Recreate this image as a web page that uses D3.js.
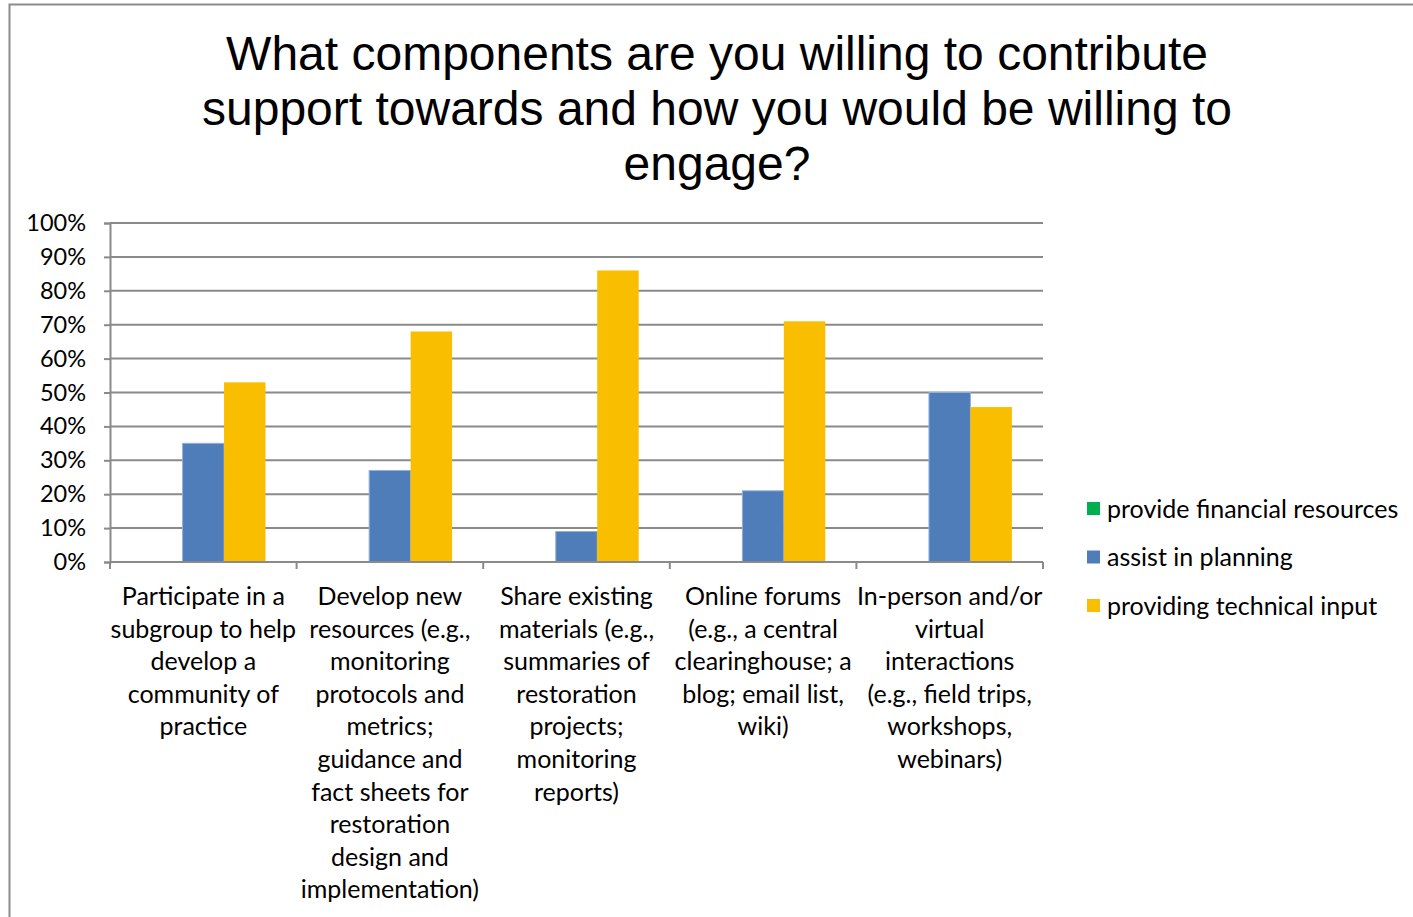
<!DOCTYPE html>
<html>
<head>
<meta charset="utf-8">
<script src="https://cdn.jsdelivr.net/npm/d3@7"></script>
<style>
  body { margin: 0; background: #fff; }
  svg { display: block; }
</style>
</head>
<body>
<div id="chart"></div>
<script>
// chart data
const categories = [
  "Participate in a subgroup to help develop a community of practice",
  "Develop new resources (e.g., monitoring protocols and metrics; guidance and fact sheets for restoration design and implementation)",
  "Share existing materials (e.g., summaries of restoration projects; monitoring reports)",
  "Online forums (e.g., a central clearinghouse; a blog; email list, wiki)",
  "In-person and/or virtual interactions (e.g., field trips, workshops, webinars)"
]
// how the category labels wrap in the picture
const categoryLines = [
  ["Participate in a", "subgroup to help", "develop a", "community of", "practice"],
  ["Develop new", "resources (e.g.,", "monitoring", "protocols and", "metrics;", "guidance and", "fact sheets for", "restoration", "design and", "implementation)"],
  ["Share existing", "materials (e.g.,", "summaries of", "restoration", "projects;", "monitoring", "reports)"],
  ["Online forums", "(e.g., a central", "clearinghouse; a", "blog; email list,", "wiki)"],
  ["In-person and/or", "virtual", "interactions", "(e.g., field trips,", "workshops,", "webinars)"]
]
const seriesNames = ["provide financial resources", "assist in planning", "providing technical input"]
const financial = [0, 0, 0, 0, 0]
const planning = [0.35, 0.27, 0.09, 0.21, 0.50]
const technical = [0.53, 0.68, 0.86, 0.71, 0.457]
const yTicks = [0, 0.1, 0.2, 0.3, 0.4, 0.5, 0.6, 0.7, 0.8, 0.9, 1]
const titleLines = [
  "What components are you willing to contribute",
  "support towards and how you would be willing to",
  "engage?"
]

const colors = ["#00B050", "#4F7DB9", "#F9BE00"]
const seriesValues = [financial, planning, technical]

const width = 1413
const height = 917
const plotLeft = 110
const plotRight = 1043
const plotTop = 223
const plotBottom = 562
const gridColor = "#8a8a8a"
const labelFont = "Lato, 'Open Sans', sans-serif"

const svg = d3.select('#chart')
  .append('svg')
  .attr('width', width)
  .attr('height', height)

// chart area border
svg.append('rect')
  .attr('x', 9.5)
  .attr('y', 4.5)
  .attr('width', 1500)
  .attr('height', 1000)
  .attr('fill', '#fff')
  .attr('stroke', '#8c8c8c')
  .attr('stroke-width', 2)

// title
svg.append('text')
  .attr('x', 717)
  .attr('y', 70)
  .attr('text-anchor', 'middle')
  .style('font-family', "'Liberation Sans', Arial, sans-serif")
  .style('font-size', '48px')
  .attr('fill', '#000')
  .selectAll('tspan')
  .data(titleLines)
  .enter()
  .append('tspan')
  .attr('x', 717)
  .attr('dy', (d, i) => i === 0 ? 0 : 55)
  .text(d => d)

const xScale = d3.scaleBand()
  .domain(categories)
  .range([plotLeft, plotRight])
  .padding(0)

const xInner = d3.scaleBand()
  .domain(seriesNames)
  .range([0, xScale.bandwidth()])
  .paddingInner(0)
  .paddingOuter(0.75)

const yScale = d3.scaleLinear()
  .domain([0, 1])
  .range([plotBottom, plotTop])

// gridlines
svg.append('g')
  .selectAll('line')
  .data(yTicks.slice(1))
  .enter()
  .append('line')
  .attr('x1', plotLeft)
  .attr('x2', plotRight)
  .attr('y1', d => yScale(d))
  .attr('y2', d => yScale(d))
  .attr('stroke', gridColor)
  .attr('stroke-width', 2)

// bars
const groups = svg.append('g')
  .selectAll('g')
  .data(categories)
  .enter()
  .append('g')
  .attr('transform', d => 'translate(' + xScale(d) + ',0)')

groups.selectAll('rect')
  .data((d, i) => seriesNames.map((s, j) => ({ s: s, v: seriesValues[j][i], j: j })))
  .enter()
  .append('rect')
  .attr('x', d => xInner(d.s))
  .attr('width', xInner.bandwidth())
  .attr('y', d => yScale(d.v))
  .attr('height', d => plotBottom - yScale(d.v))
  .attr('fill', d => colors[d.j])
  .attr('stroke', d => d.j === 1 ? '#8fb0dc' : 'none')
  .attr('stroke-width', d => d.v > 0 ? 1 : 0)

// y axis
const yAxis = d3.axisLeft(yScale)
  .tickValues(yTicks)
  .tickFormat(d3.format('.0%'))
  .tickSize(6)
  .tickPadding(18)

const yAxisG = svg.append('g')
  .attr('transform', 'translate(' + plotLeft + ',0)')
  .call(yAxis)
yAxisG.select('.domain').attr('stroke', gridColor).attr('stroke-width', 2)
yAxisG.selectAll('.tick line').attr('stroke', gridColor).attr('stroke-width', 2)
yAxisG.selectAll('.tick text')
  .style('font-family', labelFont)
  .style('font-size', '23.5px')
  .attr('fill', '#000')

// x axis line with ticks on category boundaries
const boundaries = categories.map(c => xScale(c)).concat([plotRight])
svg.append('line')
  .attr('x1', plotLeft)
  .attr('x2', plotRight)
  .attr('y1', plotBottom)
  .attr('y2', plotBottom)
  .attr('stroke', gridColor)
  .attr('stroke-width', 2)
svg.append('g')
  .selectAll('line')
  .data(boundaries)
  .enter()
  .append('line')
  .attr('x1', d => d)
  .attr('x2', d => d)
  .attr('y1', plotBottom)
  .attr('y2', plotBottom + 7)
  .attr('stroke', gridColor)
  .attr('stroke-width', 2)

// category labels
svg.append('g')
  .selectAll('text')
  .data(categories)
  .enter()
  .append('text')
  .attr('x', d => xScale(d) + xScale.bandwidth() / 2)
  .attr('y', 605)
  .attr('text-anchor', 'middle')
  .style('font-family', labelFont)
  .style('font-size', '25px')
  .attr('fill', '#000')
  .selectAll('tspan')
  .data((d, i) => categoryLines[i])
  .enter()
  .append('tspan')
  .attr('x', function () { return this.parentNode.getAttribute('x') })
  .attr('dy', (d, i) => i === 0 ? 0 : 32.6)
  .text(d => d)

// legend
const legend = svg.append('g')
  .selectAll('g')
  .data(seriesNames)
  .enter()
  .append('g')
  .attr('transform', (d, i) => 'translate(1087,' + (509 + i * 48.5) + ')')

legend.append('rect')
  .attr('x', 0)
  .attr('y', -7)
  .attr('width', 13)
  .attr('height', 13)
  .attr('fill', (d, i) => colors[i])

legend.append('text')
  .attr('x', 20)
  .attr('y', 0)
  .attr('dy', '0.35em')
  .style('font-family', labelFont)
  .style('font-size', '25px')
  .attr('fill', '#000')
  .text(d => d)
</script>
</body>
</html>
